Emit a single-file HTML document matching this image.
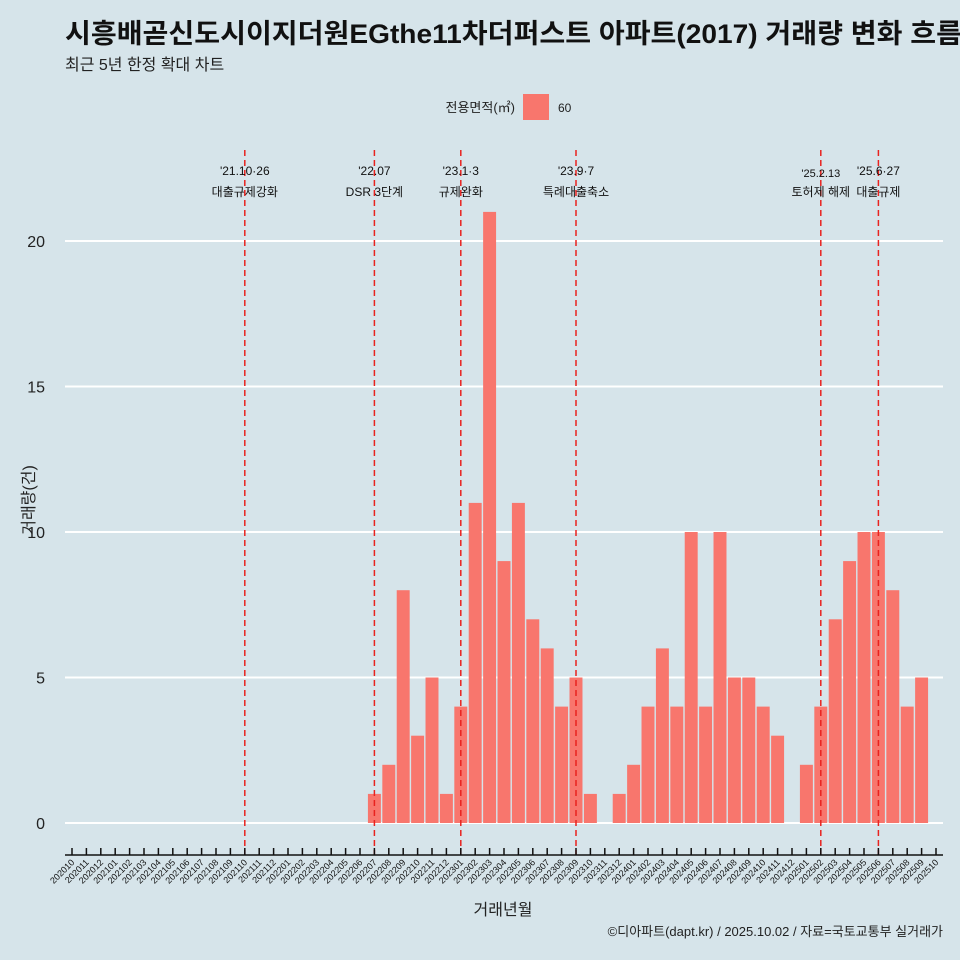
<!DOCTYPE html>
<html><head><meta charset="utf-8"><style>
html,body{margin:0;padding:0;background:#d6e4ea;}
svg{display:block;font-family:"Liberation Sans","Noto Sans CJK KR",sans-serif;}
</style></head><body>
<svg id="chart" width="960" height="960" viewBox="0 0 960 960">
<rect x="0" y="0" width="960" height="960" fill="#d6e4ea"/>
<text x="65" y="43" font-size="27" font-weight="bold" fill="#111" textLength="897" lengthAdjust="spacingAndGlyphs">시흥배곧신도시이지더원EGthe11차더퍼스트 아파트(2017) 거래량 변화 흐름</text>
<text x="65" y="70" font-size="16" fill="#222">최근 5년 한정 확대 차트</text>
<g>
<text x="515" y="112" font-size="13" text-anchor="end" fill="#222">전용면적(㎡)</text>
<rect x="523" y="94" width="26" height="26" fill="#f8766d"/>
<text x="558" y="112" font-size="12" fill="#222">60</text>
</g>
<g id="grid"></g><g id="bars"></g><g id="events"></g><g id="axes"></g>
<text x="0" y="0" transform="translate(34,500) rotate(-90)" font-size="16" text-anchor="middle" fill="#222">거래량(건)</text>
<text x="503" y="915" font-size="16" text-anchor="middle" fill="#222">거래년월</text>
<text x="943" y="936" font-size="13" text-anchor="end" fill="#222">©디아파트(dapt.kr) / 2025.10.02 / 자료=국토교통부 실거래가</text>
</svg>
<script>
const months = [];
for (let y = 2020; y <= 2025; y++) for (let m = 1; m <= 12; m++) { const k = y*100+m; if (k >= 202010 && k <= 202510) months.push(String(k)); }
const counts = [0,0,0,0,0,0,0,0,0,0,0,0,0,0,0,0,0,0,0,0,0,
  1,2,8,3,5,1,4,11,21,9,11,7,6,4,5,1,0,1,2,4,6,4,10,4,10,5,5,4,3,0,2,4,7,9,10,10,8,4,5,0];
const yTicks = [0,5,10,15,20];
const eventMonths = ['202110','202207','202301','202309','202502','202506'];
const eventDates = ["'21.10·26","'22.07","'23.1·3","'23.9·7","'25.2.13","'25.6·27"];
const eventLabels = ['대출규제강화','DSR 3단계','규제완화','특례대출축소','토허제 해제','대출규제'];

const NS='http://www.w3.org/2000/svg';
const X0=72, X1=936, Y0=823, Y20=241;
const step=(X1-X0)/(months.length-1);
const xs=i=>X0+i*step;
const ys=v=>Y0-(Y0-Y20)*v/20;
function mk(tag,attrs,parent){const e=document.createElementNS(NS,tag);for(const k in attrs)e.setAttribute(k,attrs[k]);parent.appendChild(e);return e;}
const grid=document.getElementById('grid'),bars=document.getElementById('bars'),ev=document.getElementById('events'),axes=document.getElementById('axes');
yTicks.forEach(t=>{
  const l=mk('line',{x1:65,x2:943,y1:ys(t),y2:ys(t),stroke:'#fff','stroke-width':2},grid);
  
  
  const tx=mk('text',{x:45,y:ys(t)+6,'font-size':16,'text-anchor':'end',fill:'#222'},axes);
  tx.textContent=t;
  
  
});
const bw=step*0.9;
counts.forEach((v,i)=>{
  if(!v) return;
  const r=mk('rect',{x:xs(i)-bw/2,y:ys(v),width:bw,height:Y0-ys(v),fill:'#f8766d'},bars);
  
  
});
eventMonths.forEach((m,j)=>{
  const i=months.indexOf(m), x=xs(i);
  const l=mk('line',{x1:x,x2:x,y1:150,y2:855,stroke:'#e8221e','stroke-width':1.5,'stroke-dasharray':'6,4'},ev);
  
  
  const small=m==='202502';
  const t1=mk('text',{x:x,y:small?177:175,'font-size':small?11:12,'text-anchor':'middle',fill:'#111'},ev);
  t1.textContent=eventDates[j];
  
  
  const t2=mk('text',{x:x,y:196,'font-size':12,'text-anchor':'middle',fill:'#111'},ev);
  t2.textContent=eventLabels[j];
  
  
});
const ax=mk('line',{x1:65,x2:943,y1:855,y2:855,stroke:'#111','stroke-width':1.5},axes);


months.forEach((m,i)=>{
  const x=xs(i);
  const tk=mk('line',{x1:x,x2:x,y1:848,y2:855,stroke:'#111','stroke-width':1.5},axes);
  
  
  const tl=mk('text',{x:0,y:0,transform:`translate(${x+3},${863}) rotate(-45)`,'font-size':9,'text-anchor':'end',fill:'#111'},axes);
  tl.textContent=m;
  
  
});
</script>
</body></html>
